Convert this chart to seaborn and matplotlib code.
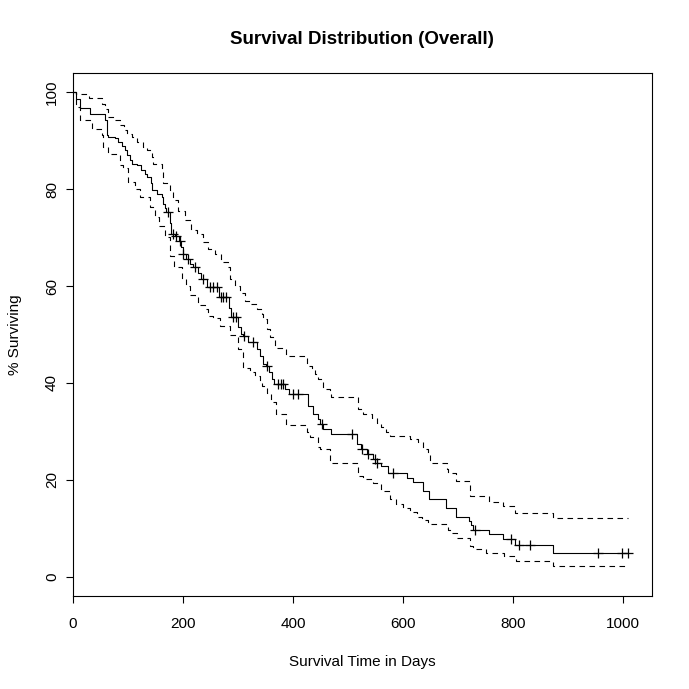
import numpy as np
import pandas as pd
import matplotlib
matplotlib.use("Agg")
import matplotlib.pyplot as plt
import seaborn as sns

sns.set_style("ticks")
plt.rcParams["font.family"] = ["Liberation Sans", "DejaVu Sans"]
plt.rcParams["text.color"] = "black"
plt.rcParams["xtick.color"] = "black"
plt.rcParams["ytick.color"] = "black"

# ---------------------------------------------------------
# Kaplan-Meier estimate (step values after each time, in %)
# ---------------------------------------------------------
km_time = [0, 5, 12, 31, 58, 61, 64, 76, 82, 90, 95, 98, 104, 107, 116, 124,
           131, 134, 142, 143, 152, 161, 164, 167, 170, 176, 179, 186, 192,
           197, 200, 205, 212, 218, 228, 233, 243, 265, 283, 288, 300, 306,
           310, 318, 335, 340, 346, 351, 356, 362, 366, 386, 392, 428, 437,
           445, 449, 455, 470, 517, 524, 535, 546, 552, 561, 573, 607, 619,
           637, 647, 679, 696, 720, 724, 728, 757, 782, 803, 873, 1010]
km_surv = [100, 98.6, 96.7, 95.5, 94.3, 91.2, 90.8, 90.5, 89.8, 89.0, 88.0,
           87.0, 86.0, 85.3, 85.0, 84.0, 83.2, 82.5, 81.2, 79.8, 79.0, 78.4,
           77.0, 76.2, 75.3, 73.0, 70.8, 70.3, 69.4, 68.0, 66.7, 65.5, 64.5,
           63.9, 62.8, 61.5, 59.8, 57.7, 55.5, 53.7, 51.5, 50.0, 49.6, 48.4,
           47.0, 45.5, 44.0, 43.5, 42.2, 40.8, 39.8, 38.7, 37.7, 35.3, 33.5,
           32.5, 31.5, 30.4, 29.4, 27.3, 26.3, 25.3, 24.2, 23.5, 22.8, 21.5,
           20.4, 19.5, 17.7, 16.0, 14.2, 12.4, 11.4, 10.6, 9.7, 8.7, 7.8, 6.6,
           4.8, 4.8]

# censored observations (days)
cens_time = [173, 182, 188, 194, 200, 210, 222, 237, 249, 255, 261, 270, 273,
             278, 291, 297, 311, 328, 352, 373, 379, 382, 400, 409, 452, 507,
             525, 537, 549, 553, 582, 731, 797, 812, 832, 955, 999, 1010]

# upper confidence limit
up_time = [0, 6, 30, 52, 58, 64, 76, 85, 92, 98, 107, 116, 128, 134, 143, 146,
           161, 164, 176, 182, 191, 203, 215, 225, 237, 246, 258, 270, 282,
           285, 295, 304, 313, 322, 334, 343, 346, 352, 358, 367, 382, 388,
           425, 434, 440, 446, 455, 467, 470, 519, 528, 543, 552, 561, 570,
           576, 613, 628, 637, 646, 649, 680, 682, 697, 722, 756, 782, 804,
           873, 1010]
up_surv = [100, 99.6, 98.9, 97.7, 96.5, 95.0, 94.3, 93.2, 92.2, 91.5, 90.8,
           89.8, 88.7, 88.0, 86.7, 85.3, 83.9, 81.2, 79.8, 77.7, 75.6, 73.6,
           71.5, 70.8, 69.1, 67.7, 66.7, 64.9, 63.9, 61.5, 60.1, 58.5, 57.0,
           56.3, 55.3, 54.2, 53.2, 51.1, 49.4, 47.3, 47.0, 45.6, 43.5, 42.9,
           41.8, 40.8, 38.7, 38.4, 37.0, 34.6, 33.5, 32.8, 31.8, 30.8, 29.8,
           29.0, 28.4, 27.7, 26.3, 25.6, 23.5, 22.2, 21.5, 19.7, 16.6, 15.5,
           14.5, 13.2, 12.1, 12.1]

# lower confidence limit
lo_time = [0, 5, 12, 34, 52, 55, 64, 85, 91, 100, 113, 122, 140, 149, 156,
           167, 176, 184, 198, 205, 213, 222, 228, 240, 246, 255, 267, 285,
           300, 309, 310, 322, 331, 340, 343, 352, 360, 369, 388, 425, 431,
           446, 449, 467, 518, 528, 545, 561, 576, 588, 600, 612, 625, 635,
           645, 682, 690, 699, 722, 727, 752, 783, 805, 873, 1010]
lo_surv = [100, 97.0, 94.3, 92.5, 91.2, 88.7, 87.2, 85.0, 84.3, 81.5, 80.1,
           78.4, 76.4, 74.3, 72.5, 70.1, 66.3, 64.0, 61.5, 60.0, 58.2, 57.7,
           56.0, 55.3, 53.9, 53.5, 51.8, 49.8, 47.0, 46.0, 43.0, 42.2, 41.5,
           40.5, 39.4, 38.0, 36.0, 33.5, 31.3, 29.8, 28.8, 26.7, 26.3, 23.5,
           20.8, 20.1, 19.4, 17.7, 16.0, 15.0, 14.2, 13.3, 12.4, 11.6, 10.9,
           9.7, 9.0, 8.0, 6.3, 5.8, 4.9, 4.2, 3.2, 2.1, 2.1]

km = pd.DataFrame({"time": km_time, "surv": km_surv})
up = pd.DataFrame({"time": up_time, "surv": up_surv})
lo = pd.DataFrame({"time": lo_time, "surv": lo_surv})

idx = np.searchsorted(km_time, cens_time, side="right") - 1
cens = pd.DataFrame({"time": cens_time, "surv": np.array(km_surv)[idx]})

# ---------------------------------------------------------
# Plot
# ---------------------------------------------------------
fig = plt.figure(figsize=(6.89, 6.89), dpi=100)
ax = fig.add_axes([73 / 689, 1 - 596 / 689, 579 / 689, 523 / 689])

dash = (0, (5, 4))
sns.lineplot(data=km, x="time", y="surv", ax=ax, color="black", lw=0.8,
             drawstyle="steps-post", estimator=None, sort=False)
sns.lineplot(data=up, x="time", y="surv", ax=ax, color="black", lw=0.8,
             drawstyle="steps-post", estimator=None, sort=False, linestyle=dash)
sns.lineplot(data=lo, x="time", y="surv", ax=ax, color="black", lw=0.8,
             drawstyle="steps-post", estimator=None, sort=False, linestyle=dash)
sns.scatterplot(data=cens, x="time", y="surv", ax=ax, marker="+", s=60,
                color="black", linewidth=0.9, zorder=3)

ax.set_xlim(0, 1053)
ax.set_ylim(-4, 104)
ax.set_xticks([0, 200, 400, 600, 800, 1000])
ax.set_yticks([0, 20, 40, 60, 80, 100])
ax.tick_params(direction="out", length=5, width=0.8, labelsize=11, color="black")
ax.tick_params(axis="x", pad=10)
ax.tick_params(axis="y", pad=5)
for lab in ax.get_yticklabels():
    lab.set_rotation(90)
    lab.set_va("center")
for sp in ax.spines.values():
    sp.set_visible(True)
    sp.set_linewidth(0.8)
    sp.set_color("black")

ax.set_xlabel("")
ax.set_ylabel("")
fig.text(362 / 689, 1 - 662 / 689, "Survival Time in Days", ha="center",
         va="center", fontsize=11)
fig.text(15 / 689, 1 - 335 / 689, "% Surviving", ha="center", va="center",
         rotation=90, fontsize=11)
fig.text(362 / 689, 1 - 40 / 689, "Survival Distribution (Overall)",
         ha="center", va="center", fontsize=13.5, fontweight="bold")

fig.savefig("out.png", dpi=100)
